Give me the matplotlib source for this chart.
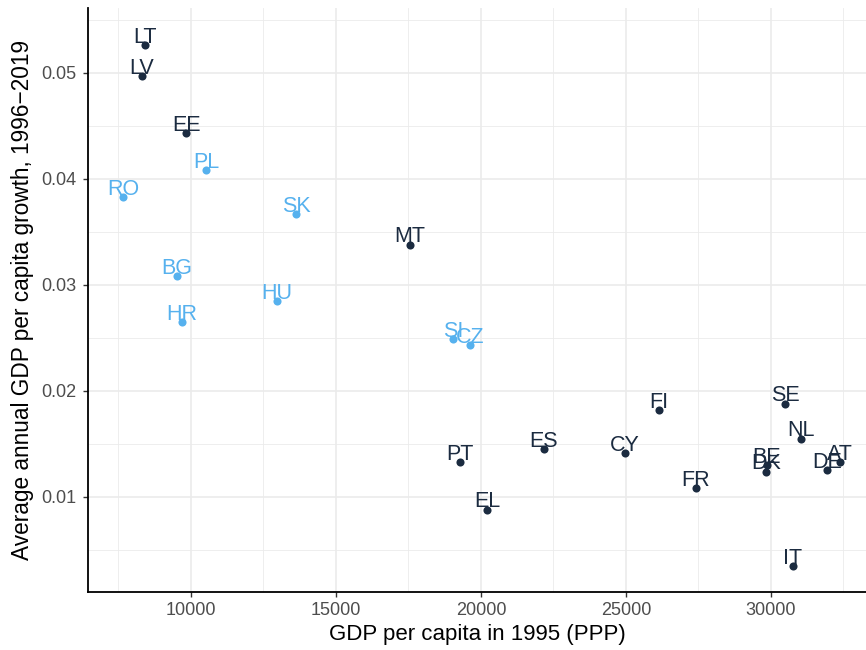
import matplotlib
matplotlib.use('Agg')
import matplotlib.pyplot as plt
from matplotlib.ticker import MultipleLocator

plt.rcParams['font.family'] = ['Liberation Sans', 'DejaVu Sans']

countries = ['LT', 'LV', 'EE', 'PL', 'RO', 'SK', 'MT', 'BG', 'HU', 'HR', 'SI', 'CZ',
             'FI', 'SE', 'NL', 'PT', 'ES', 'CY', 'FR', 'EL', 'BE', 'DK', 'DE', 'AT', 'IT']
gdp_1995 = [8414, 8310, 9828, 10517, 7655, 13621, 17552, 9517, 12966, 9690, 19034, 19621,
            26138, 30483, 31034, 19276, 22172, 24966, 27414, 20207, 29862, 29828, 31931, 32379, 30759]
growth = [0.0526, 0.0497, 0.0443, 0.0408, 0.0383, 0.0367, 0.0338, 0.0308, 0.0285, 0.0265, 0.0249, 0.0243,
          0.0182, 0.0188, 0.0155, 0.0133, 0.0145, 0.0141, 0.0108, 0.0088, 0.0130, 0.0124, 0.0125, 0.0133, 0.0035]
group = ['old', 'old', 'old', 'new', 'new', 'new', 'old', 'new', 'new', 'new', 'new', 'new',
         'old', 'old', 'old', 'old', 'old', 'old', 'old', 'old', 'old', 'old', 'old', 'old', 'old']

colors = {'old': '#1B2B40', 'new': '#56B1EE'}

fig = plt.figure(figsize=(8.66, 6.5), dpi=100)
ax = fig.add_axes([0.1016, 0.0892, 0.8984, 0.8985])

for c, x, y, g in zip(countries, gdp_1995, growth, group):
    col = colors[g]
    ax.annotate(c, (x, y), xytext=(0, 1.6), textcoords='offset points', color=col,
                fontsize=15.5, ha='center', va='baseline', zorder=3)
    ax.scatter([x], [y], s=34, color=col, zorder=4, linewidths=0)

ax.set_xlim(6448, 33276)
ax.set_ylim(0.00104, 0.0561)
ax.xaxis.set_major_locator(MultipleLocator(5000))
ax.xaxis.set_minor_locator(MultipleLocator(2500))
ax.yaxis.set_major_locator(MultipleLocator(0.01))
ax.yaxis.set_minor_locator(MultipleLocator(0.005))
ax.yaxis.set_major_formatter(plt.FuncFormatter(lambda v, p: '{:.2f}'.format(v)))

ax.grid(which='major', color='#EBEBEB', lw=1.2, zorder=0)
ax.grid(which='minor', color='#EBEBEB', lw=0.6, zorder=0)
ax.set_axisbelow(True)

for s in ['top', 'right']:
    ax.spines[s].set_visible(False)
for s in ['left', 'bottom']:
    ax.spines[s].set_color('black')
    ax.spines[s].set_linewidth(1.3)

ax.tick_params(which='major', length=3.5, width=1, color='#333333', labelsize=13,
               labelcolor='#4D4D4D', pad=4)
ax.tick_params(axis='y', which='major', pad=5)
ax.tick_params(which='minor', length=0)

ax.set_xlabel('GDP per capita in 1995 (PPP)', fontsize=16, labelpad=3)
ax.set_ylabel('Average annual GDP per capita growth, 1996\u22122019', fontsize=16.3, labelpad=5)

fig.savefig('out.png', dpi=100)
